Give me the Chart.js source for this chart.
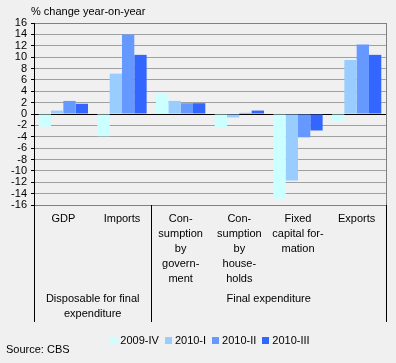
<!DOCTYPE html>
<html>
<head>
<meta charset="utf-8">
<script src="https://cdn.jsdelivr.net/npm/chart.js@4"></script>
<style>
  html, body { margin: 0; padding: 0; background: #f0f0f0; }
  canvas { display: block; }
</style>
</head>
<body>
<canvas id="myChart" width="396" height="363"></canvas>
<script>
// categories (multi-line as in the original)
var categories = [
    ['GDP'],
    ['Imports'],
    ['Con-', 'sumption', 'by', 'govern-', 'ment'],
    ['Con-', 'sumption', 'by', 'house-', 'holds'],
    ['Fixed', 'capital for-', 'mation'],
    ['Exports']
];
var groupLabels = [['Disposable for final', 'expenditure'], ['Final expenditure']];
var groupSizes = [2, 4];

var seriesNames = ['2009-IV', '2010-I', '2010-II', '2010-III'];
var q2009IV = [-2.2, -3.9, 3.6, -2.3, -14.9, -1.2];
var q2010I = [0.6, 7.1, 2.3, -0.6, -11.7, 9.5];
var q2010II = [2.3, 14.0, 1.9, 0.2, -4.1, 12.2];
var q2010III = [1.8, 10.4, 1.9, 0.6, -2.9, 10.4];
var colors = ['#ccffff', '#99ccff', '#6699ff', '#3366ff'];

var yTitle = '% change year-on-year';
var source = 'Source: CBS';

var FONT = '11px "Liberation Sans", Arial, sans-serif';

// extra texts, separators and legend
var extras = {
    id: 'extras',
    afterDraw: function(chart) {
        var c = chart.ctx;
        var area = chart.chartArea;
        var x = chart.scales.x;
        var bottomLine = area.bottom + 117;
        c.save();
        c.font = FONT;
        c.fillStyle = '#000';

        // title
        c.textAlign = 'left';
        c.textBaseline = 'middle';
        c.fillText(yTitle, 31, 12);

        // right border
        c.lineWidth = 1;
        c.strokeStyle = '#808080';
        c.beginPath();
        c.moveTo(Math.round(area.right) + 0.5, area.top);
        c.lineTo(Math.round(area.right) + 0.5, area.bottom);
        c.stroke();

        // separators between groups
        var half = (x.getPixelForValue(1) - x.getPixelForValue(0)) / 2;
        var bounds = [x.getPixelForValue(0) - half];
        var idx = 0;
        groupSizes.forEach(function(n) {
            idx += n;
            bounds.push(x.getPixelForValue(idx - 1) + half);
        });
        c.strokeStyle = '#000';
        bounds.forEach(function(b) {
            var px = Math.round(b) + 0.5;
            c.beginPath();
            c.moveTo(px, area.bottom);
            c.lineTo(px, bottomLine);
            c.stroke();
        });

        // group labels
        c.textAlign = 'center';
        groupLabels.forEach(function(lines, i) {
            var cx = (bounds[i] + bounds[i + 1]) / 2;
            lines.forEach(function(t, j) {
                c.fillText(t, cx, area.bottom + 94 + j * 15);
            });
        });

        // legend
        var boxW = 7, gapBox = 3, gapItem = 6;
        var widths = seriesNames.map(function(n) {
            return boxW + gapBox + c.measureText(n).width;
        });
        var total = widths.reduce(function(a, b) { return a + b; }, 0) + gapItem * (widths.length - 1);
        var lx = (area.left + area.right) / 2 - total / 2;
        var ly = 341;
        c.textAlign = 'left';
        seriesNames.forEach(function(n, i) {
            c.fillStyle = colors[i];
            c.fillRect(Math.round(lx), ly - 4, boxW, boxW);
            c.fillStyle = '#000';
            c.fillText(n, lx + boxW + gapBox, ly);
            lx += widths[i] + gapItem;
        });

        // source
        c.fillText(source, 6, 350);
        c.restore();
    }
};

var ctx = document.getElementById('myChart').getContext('2d');
var myChart = new Chart(ctx, {
    type: 'bar',
    data: {
        labels: categories,
        datasets: [q2009IV, q2010I, q2010II, q2010III].map(function(d, i) {
            return {
                label: seriesNames[i],
                data: d,
                backgroundColor: colors[i],
                borderWidth: 0,
                categoryPercentage: 0.84,
                barPercentage: 1
            };
        })
    },
    options: {
        responsive: false,
        animation: false,
        layout: { padding: { top: 23, right: 10, left: 0, bottom: 0 } },
        plugins: {
            legend: { display: false },
            tooltip: { enabled: false }
        },
        scales: {
            x: {
                grid: { display: false, drawTicks: false },
                border: { display: true, color: '#808080' },
                ticks: {
                    color: '#000',
                    padding: 6,
                    maxRotation: 0,
                    autoSkip: false,
                    font: { family: '"Liberation Sans", Arial, sans-serif', size: 11, lineHeight: '15px' }
                },
                afterFit: function(scale) { scale.height = 158; }
            },
            y: {
                min: -16,
                max: 16,
                ticks: {
                    stepSize: 2,
                    autoSkip: false,
                    color: '#000',
                    padding: 4,
                    font: { family: '"Liberation Sans", Arial, sans-serif', size: 11 }
                },
                grid: {
                    color: function(c) {
                        if (c.tick.value === 0) return '#000';
                        if (c.tick.value === 16 || c.tick.value === -16) return '#808080';
                        return '#a0a0a0';
                    },
                    tickColor: '#000',
                    tickLength: 3
                },
                border: { display: true, color: '#000' },
                afterFit: function(scale) { scale.width = 34; }
            }
        }
    },
    plugins: [extras]
});
</script>
</body>
</html>
